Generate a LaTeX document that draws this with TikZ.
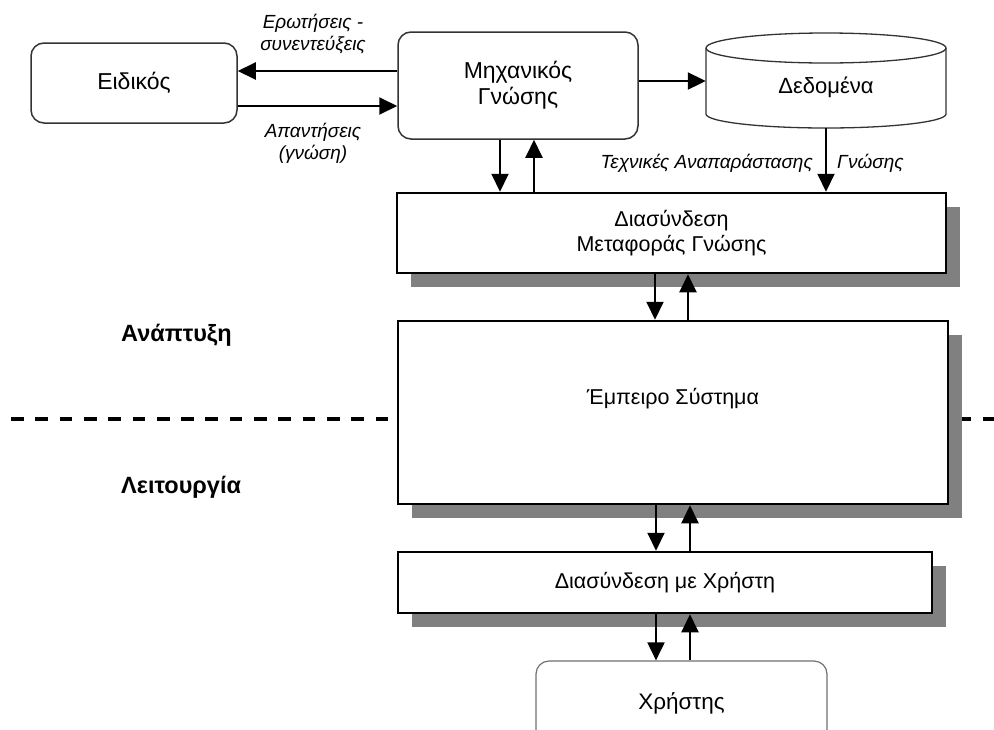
\documentclass[tikz,border=0pt]{standalone}
\usepackage{fontspec}
\setmainfont{Liberation Sans}
\usetikzlibrary{arrows.meta,shadows}
\definecolor{shadowgray}{HTML}{808080}
\definecolor{rbord}{HTML}{333333}
\definecolor{lbord}{HTML}{707070}
\begin{document}
\begin{tikzpicture}[x=1pt,y=-1pt,
  arr/.style={line width=2pt,-{Triangle[length=18pt,width=17pt]}},
  rbox/.style={draw=rbord,line width=1.5pt,rounded corners=13pt,fill=white,inner sep=0pt,align=center,font=\fontsize{23}{26}\selectfont},
  sbox/.style={draw=black,line width=2.5pt,fill=white,inner sep=0pt,align=center,font=\fontsize{21.5}{25}\selectfont,
    drop shadow={shadow xshift=14pt,shadow yshift=-14pt,fill=shadowgray,opacity=1}},
  lbl/.style={font=\fontsize{19}{22}\selectfont\itshape,inner sep=0pt,align=center},
  phase/.style={font=\fontsize{23.5}{26}\selectfont\bfseries,anchor=west,inner sep=0pt},
  cyl/.style={draw=rbord,line width=1.3pt}]
\useasboundingbox (0,0) rectangle (994,729);
% dashed separator
\coordinate (dl) at (11,419);
\coordinate (dr) at (994,419);
\draw[line width=4pt,dash pattern=on 12.7pt off 11.6pt] (dl) -- (dr);

% top row
\node[rbox,minimum width=206pt,minimum height=80pt] (eid) at (134,83) {Ειδικός};
\node[rbox,minimum width=240pt,minimum height=107pt] (mix) at (518,85.5) {Μηχανικός\\Γνώσης};
% cylinder body
\fill[white] (706,48) rectangle (946,114);
\draw[cyl] (706,48) -- (706,114) arc[start angle=180,end angle=360,x radius=120pt,y radius=14pt] -- (946,48);
\draw[cyl,fill=white] (826,48) ellipse[x radius=120pt,y radius=15pt];
\node[inner sep=0pt,minimum width=240pt,minimum height=95pt,
  label={[yshift=-6.5pt,font=\fontsize{22}{25}\selectfont]center:Δεδομένα}] (dedo) at (826,80.5) {};

% shadowed boxes
\node[sbox,minimum width=549pt,minimum height=80pt] (dmg) at (671.5,233) {Διασύνδεση\\Μεταφοράς Γνώσης};
\node[sbox,minimum width=550pt,minimum height=183pt,
  label={[yshift=14pt,font=\fontsize{21.5}{25}\selectfont]center:Έμπειρο Σύστημα}] (emp) at (673,412.5) {};
\node[sbox,minimum width=534pt,minimum height=61pt] (dxr) at (665,582.5) {Διασύνδεση με Χρήστη};
\node[rbox,draw=lbord,line width=1.2pt,minimum width=291pt,minimum height=84pt,font=\fontsize{22.5}{25}\selectfont] (xr) at (681.5,703) {Χρήστης};

% phase labels
\node[phase] (dev) at (121,335) {Ανάπτυξη};
\node[phase] (ops) at (121,487) {Λειτουργία};

% edge labels
\node[lbl] (q) at (313,34) {Ερωτήσεις -\\συνεντεύξεις};
\node[lbl] (ans) at (313,143.5) {Απαντήσεις\\(γνώση)};
\node[lbl,anchor=east] (t1) at (813,163) {Τεχνικές Αναπαράστασης};
\node[lbl,anchor=west] (t2) at (837,163) {Γνώσης};

% helper coordinates
\coordinate (ya) at (0,71);
\coordinate (yb) at (0,106);
\coordinate (yc) at (0,81);
\coordinate (xa) at (500,0);
\coordinate (xb) at (534,0);
\coordinate (xc) at (655,0);
\coordinate (xd) at (688,0);
\coordinate (xe) at (656,0);
\coordinate (xf) at (690,0);

% connectors
\draw[arr] (mix.west |- ya) -- (eid.east |- ya);
\draw[arr] (eid.east |- yb) -- (mix.west |- yb);
\draw[arr] (mix.east |- yc) -- (dedo.west |- yc);
\draw[arr] (dedo.south) -- (dedo.south |- dmg.north);
\draw[arr] (mix.south -| xa) -- (dmg.north -| xa);
\draw[arr] (dmg.north -| xb) -- (mix.south -| xb);
\draw[arr] (dmg.south -| xc) -- (emp.north -| xc);
\draw[arr] (emp.north -| xd) -- (dmg.south -| xd);
\draw[arr] (emp.south -| xe) -- (dxr.north -| xe);
\draw[arr] (dxr.north -| xf) -- (emp.south -| xf);
\draw[arr] (dxr.south -| xe) -- (xr.north -| xe);
\draw[arr] (xr.north -| xf) -- (dxr.south -| xf);
\end{tikzpicture}
\end{document}
